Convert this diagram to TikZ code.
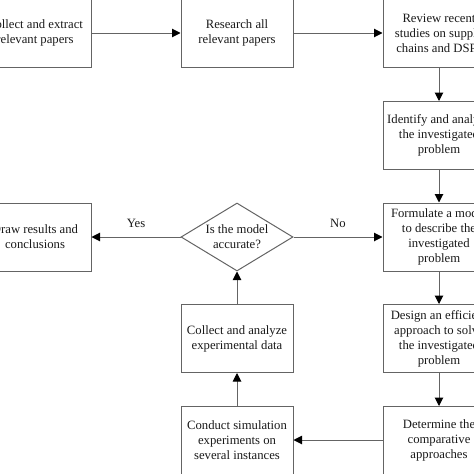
\documentclass[tikz,border=0pt]{standalone}
\usepackage{fontspec}
\setmainfont{Liberation Serif}
\usetikzlibrary{arrows.meta,shapes.geometric}
\definecolor{lc}{RGB}{100,100,100}
\definecolor{tc}{RGB}{25,25,25}
\begin{document}
\begin{tikzpicture}[x=1pt,y=-1pt,
  box/.style={draw=lc,line width=1pt,minimum width=112pt,minimum height=68pt,inner sep=0pt,
    align=center,text=tc,font=\fontsize{12.7}{15}\selectfont},
  diam/.style={draw=lc,line width=1pt,diamond,minimum width=112pt,minimum height=68pt,inner sep=0pt},
  txt/.style={align=center,text=tc,font=\fontsize{12.7}{15}\selectfont,inner sep=0pt},
  arr/.style={draw=lc,line width=1pt,-{Triangle[length=8.5pt,width=8.5pt,fill=black,color=black]}}]
\useasboundingbox (0,0) rectangle (474,474);
\clip (0,0) rectangle (474,474);
\node[box] (c1) at (35,33) {Collect and extract\\relevant papers};
\node[box] (c2) at (237,33) {Research all\\relevant papers};
\node[box] (c3) at (439,33) {Review recent\\studies on supply\\chains and DSPs};
\node[box] (id) at (439,135.5) {Identify and analyze\\the investigated\\problem};
\node[box] (fm) at (439,237) {Formulate a model\\to describe the\\investigated\\problem};
\node[box] (dr) at (35,237) {Draw results and\\conclusions};
\node[diam] (dia) at (237,237) {};
\node[txt] (diat) at (237,237) {Is the model\\accurate?};
\node[box] (ds) at (439,338.5) {Design an efficient\\approach to solve\\the investigated\\problem};
\node[box] (ca) at (237,338.5) {Collect and analyze\\experimental data};
\node[box] (dt) at (439,440.5) {Determine the\\comparative\\approaches};
\node[box] (cs) at (237,440.5) {Conduct simulation\\experiments on\\several instances};
\draw[arr] (c1) -- (c2);
\draw[arr] (c2) -- (c3);
\draw[arr] (c3) -- (id);
\draw[arr] (id) -- (fm);
\draw[arr] (fm) -- (ds);
\draw[arr] (ds) -- (dt);
\draw[arr] (dt.west |- 0,440) -- (cs.east |- 0,440);
\draw[arr] (cs) -- (ca);
\draw[arr] (ca) -- (dia.south);
\draw[arr] (dia.west) -- node[txt,pos=0.5,above=9pt] (yes) {Yes} (dr.east);
\draw[arr] (dia.east) -- node[txt,pos=0.5,above=9pt] (no) {No} (fm.west);
\end{tikzpicture}
\end{document}
